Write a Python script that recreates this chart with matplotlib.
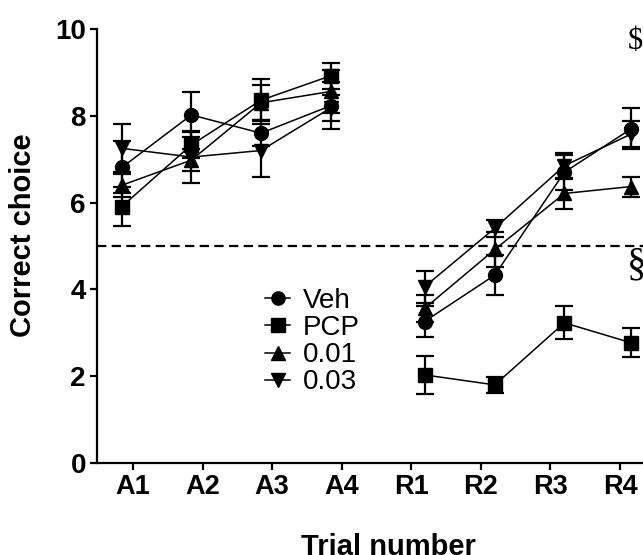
import matplotlib
matplotlib.use("Agg")
import matplotlib.pyplot as plt
from matplotlib.lines import Line2D

plt.rcParams['font.family'] = ['Liberation Sans', 'DejaVu Sans']

categories = ["A1", "A2", "A3", "A4", "R1", "R2", "R3", "R4"]
x_pos = [-0.16, 0.84, 1.84, 2.84, 4.19, 5.20, 6.20, 7.16]

veh = [6.81, 8.02, 7.60, 8.23, 3.26, 4.33, 6.70, 7.70]
veh_err = [0.60, 0.52, 0.30, 0.54, 0.35, 0.46, 0.40, 0.47]
pcp = [5.91, 7.33, 8.36, 8.92, 2.03, 1.80, 3.23, 2.77]
pcp_err = [0.44, 0.30, 0.48, 0.30, 0.43, 0.18, 0.38, 0.33]
d001 = [6.40, 6.98, 8.30, 8.56, 3.56, 4.92, 6.21, 6.37]
d001_err = [0.26, 0.25, 0.40, 0.50, 0.30, 0.40, 0.35, 0.23]
d003 = [7.25, 7.05, 7.20, 8.18, 4.06, 5.41, 6.85, 7.58]
d003_err = [0.55, 0.60, 0.60, 0.30, 0.37, 0.20, 0.30, 0.30]

series = [("Veh", veh, veh_err, "o"), ("PCP", pcp, pcp_err, "s"),
          ("0.01", d001, d001_err, "^"), ("0.03", d003, d003_err, "v")]

fig = plt.figure(figsize=(6.43, 5.55), dpi=100)
ax = fig.add_axes([97/643, 92/555, 1 - 97/643, (463-29)/555])

# chance line
ax.axhline(5, color="black", lw=1.6, ls=(0, (4.2, 2.4)), zorder=1)

for name, y, e, m in series:
    for seg in (slice(0, 4), slice(4, 8)):
        ax.errorbar(x_pos[seg], y[seg], yerr=e[seg], color="black", lw=1.1,
                    marker=m, ms=10, mfc="black", mec="black",
                    capsize=6.5, capthick=1.6, elinewidth=1.6, zorder=3,
                    clip_on=False)

ax.set_xlim(-0.517, 7.33)
ax.set_ylim(0, 10)
ax.set_xticks(range(8))
ax.set_xticklabels(categories, fontsize=19.5, fontweight="bold")
ax.set_yticks([0, 2, 4, 6, 8, 10])
ax.set_yticklabels(["0", "2", "4", "6", "8", "10"], fontsize=20, fontweight="bold")
ax.tick_params(axis="both", direction="out", length=5, width=1.6, pad=3)
for s in ("top", "right"):
    ax.spines[s].set_visible(False)
for s in ("left", "bottom"):
    ax.spines[s].set_linewidth(1.6)

ax.set_ylabel("Correct choice", fontsize=21, fontweight="bold")
ax.yaxis.set_label_coords((23 - 97) / 546, (463 - 235) / 434)
ax.yaxis.label.set_verticalalignment("center")
ax.set_xlabel("Trial number", fontsize=21, fontweight="bold")
ax.xaxis.set_label_coords((388 - 97) / 546, (463 - 533) / 434)

# significance marks
ax.text(7.22, 9.72, r"\$", fontsize=22, family="Liberation Serif",
        ha="center", va="center", clip_on=False)
ax.text(7.24, 4.56, "§", fontsize=28, family="Liberation Serif",
        ha="center", va="center", clip_on=False)

handles = [Line2D([], [], color="black", lw=1.1, marker=m, ms=9.5)
           for _, _, _, m in series]
leg = ax.legend(handles, [s[0] for s in series], loc="upper left",
                bbox_to_anchor=(265/643, (555 - 288)/555), bbox_transform=fig.transFigure,
                frameon=False, fontsize=20, handlelength=0.9, handletextpad=0.45,
                labelspacing=0.04, borderpad=0, borderaxespad=0)

fig.savefig("out.png", dpi=100)
